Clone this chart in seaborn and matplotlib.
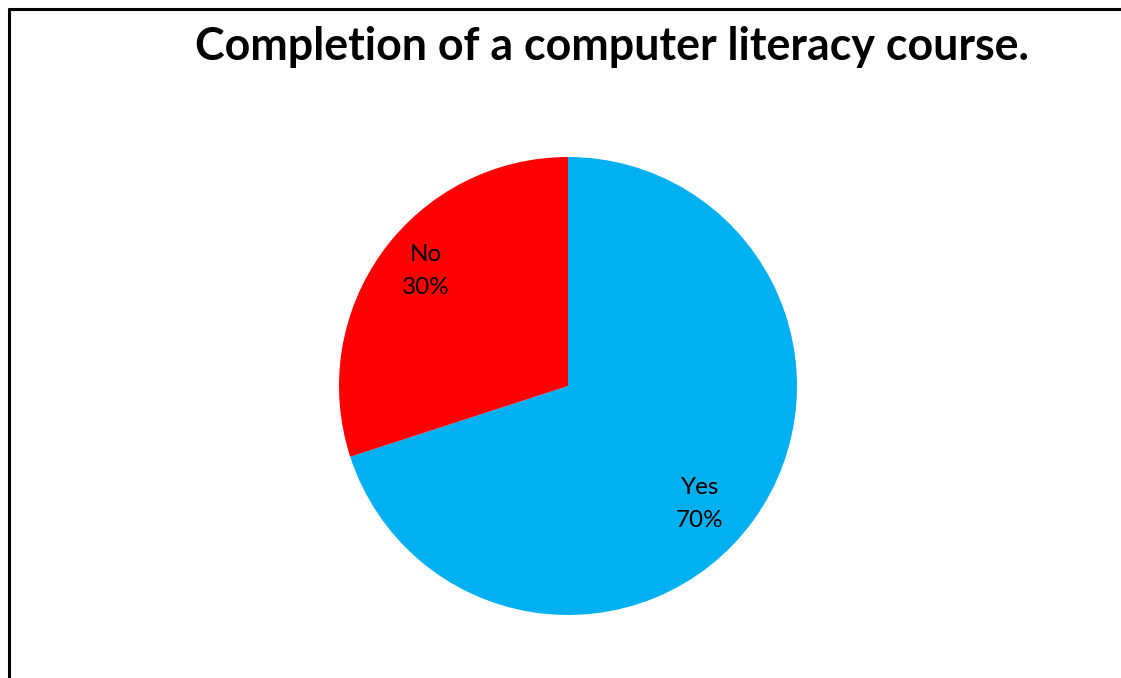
import matplotlib
matplotlib.use("Agg")
import matplotlib.pyplot as plt
import seaborn as sns

categories = ["Yes", "No"]
values = [70, 30]
colors = ["#00B0F0", "#FF0000"]
title = "Completion of a computer literacy course."

sns.set_theme(style="white")
plt.rcParams['font.family'] = ['Lato', 'DejaVu Sans']

W, H = 1121, 678
fig = plt.figure(figsize=(W / 100, H / 100), dpi=100)
fig.patch.set_facecolor("white")

cx, cy, r = 568, 386, 229
ax = fig.add_axes([(cx - r) / W, (H - cy - r) / H, 2 * r / W, 2 * r / H])

labels_iter = iter(categories)

def fmt(p):
    return f"{next(labels_iter)}\n{p:.0f}%"

wedges, texts, autotexts = ax.pie(
    values, colors=colors, startangle=90, counterclock=False,
    autopct=fmt, pctdistance=0.78, radius=1.0,
    wedgeprops=dict(linewidth=0),
    textprops=dict(fontsize=17.5, color="black", linespacing=1.68))
# label placement offsets (Excel-style positioning)
label_pos = [(0.576, -0.515), (-0.620, 0.502)]
for t, pos in zip(autotexts, label_pos):
    t.set_position(pos)
ax.set_xlim(-1, 1)
ax.set_ylim(-1, 1)
ax.set_aspect("equal")
ax.axis("off")

fig.text(612 / W, 1 - 47 / H, title, ha="center", va="center",
         fontsize=32.2, fontweight="bold", color="black")

# frame lines
fig.add_artist(plt.Line2D([8.5 / W, 8.5 / W], [0, 1 - 9 / H], color="black", lw=2.2,
                          transform=fig.transFigure))
fig.add_artist(plt.Line2D([8.5 / W, 1], [1 - 9 / H, 1 - 9 / H], color="black", lw=2.2,
                          transform=fig.transFigure))

fig.savefig("out.png", dpi=100)
